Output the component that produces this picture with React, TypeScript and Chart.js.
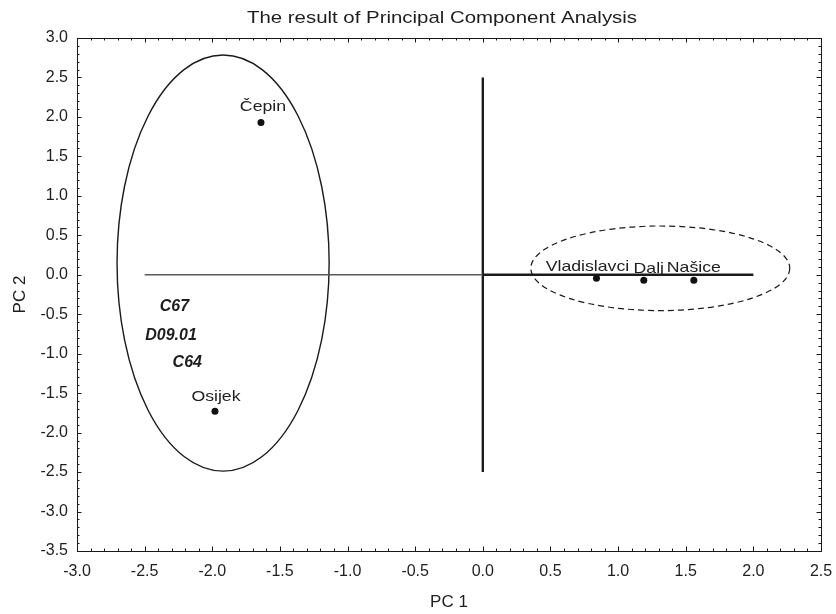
import React, { useEffect, useRef } from "react";
import { Chart, registerables } from "chart.js";

Chart.register(...registerables);

// ---- data ----
const xTickValues = [-3.0, -2.5, -2.0, -1.5, -1.0, -0.5, 0.0, 0.5, 1.0, 1.5, 2.0, 2.5];
const yTickValues = [-3.5, -3.0, -2.5, -2.0, -1.5, -1.0, -0.5, 0.0, 0.5, 1.0, 1.5, 2.0, 2.5, 3.0];

const sampleNames = ["Čepin", "Osijek", "Vladislavci", "Dalj", "Našice"];
const sampleX = [-1.64, -1.98, 0.84, 1.19, 1.56];
const sampleY = [1.93, -1.73, -0.045, -0.07, -0.07];

const markerNames = ["C67", "D09.01", "C64"];
const markerX = [-2.28, -2.305, -2.185];
const markerY = [-0.40, -0.765, -1.115];

const hLineLeftX = [-2.5, 0.0];
const hLineRightX = [0.0, 2.0];
const vLineY = [-2.5, 2.5];

const ellipseCx = [-1.92, 1.312];
const ellipseCy = [0.148, 0.082];
const ellipseRx = [0.784, 0.957];
const ellipseRy = [2.636, 0.536];
const ellipseDashed = [false, true];

// ---- label style offsets (pixels) ----
const labelDx = [2, 1, -9, 5, 0];
const labelDy = [-11.6, -10, -7.5, -7, -8.5];

const FONT = "'Liberation Sans', Arial, sans-serif";
const TEXT = "#1e1e1e";

function stretchedText(
  ctx: CanvasRenderingContext2D,
  text: string,
  x: number,
  y: number,
  font: string,
  sx: number,
  align: CanvasTextAlign,
  baseline: CanvasTextBaseline = "alphabetic"
) {
  ctx.save();
  ctx.translate(x, y);
  ctx.scale(sx, 1);
  ctx.font = font;
  ctx.textAlign = align;
  ctx.textBaseline = baseline;
  ctx.fillStyle = TEXT;
  ctx.fillText(text, 0, 0);
  ctx.restore();
}

const decorPlugin = {
  id: "decor",
  beforeDatasetsDraw(chart: any) {
    const ctx: CanvasRenderingContext2D = chart.ctx;
    const xs = chart.scales.x;
    const ys = chart.scales.y;
    for (let i = 0; i < ellipseCx.length; i++) {
      const cx = xs.getPixelForValue(ellipseCx[i]);
      const cy = ys.getPixelForValue(ellipseCy[i]);
      const rx = Math.abs(xs.getPixelForValue(ellipseCx[i] + ellipseRx[i]) - cx);
      const ry = Math.abs(ys.getPixelForValue(ellipseCy[i] + ellipseRy[i]) - cy);
      ctx.save();
      ctx.beginPath();
      ctx.ellipse(cx, cy, rx, ry, 0, 0, Math.PI * 2);
      ctx.strokeStyle = "#1a1a1a";
      ctx.lineWidth = ellipseDashed[i] ? 1.2 : 1.4;
      ctx.setLineDash(ellipseDashed[i] ? [6, 4] : []);
      ctx.stroke();
      ctx.restore();
    }
  },
  afterDraw(chart: any) {
    const ctx: CanvasRenderingContext2D = chart.ctx;
    const xs = chart.scales.x;
    const ys = chart.scales.y;
    const a = chart.chartArea;
    ctx.save();
    // frame
    ctx.strokeStyle = "#1a1a1a";
    ctx.lineWidth = 1;
    ctx.strokeRect(Math.round(a.left) + 0.5, Math.round(a.top) + 0.5, Math.round(a.right - a.left), Math.round(a.bottom - a.top));
    // ticks
    const nx = Math.round((xs.max - xs.min) / 0.1);
    for (let i = 0; i <= nx; i++) {
      const v = xs.min + i * 0.1;
      const px = Math.round(xs.getPixelForValue(v)) + 0.5;
      const major = i % 5 === 0;
      const len = major ? 4.5 : 2.5;
      ctx.beginPath();
      ctx.moveTo(px, a.bottom);
      ctx.lineTo(px, a.bottom - len);
      ctx.moveTo(px, a.top);
      ctx.lineTo(px, a.top + len);
      ctx.stroke();
    }
    const ny = Math.round((ys.max - ys.min) / 0.1);
    for (let i = 0; i <= ny; i++) {
      const v = ys.min + i * 0.1;
      const py = Math.round(ys.getPixelForValue(v)) + 0.5;
      const major = i % 5 === 0;
      const len = major ? 4.5 : 2.5;
      ctx.beginPath();
      ctx.moveTo(a.left, py);
      ctx.lineTo(a.left + len, py);
      ctx.moveTo(a.right, py);
      ctx.lineTo(a.right - len, py);
      ctx.stroke();
    }
    ctx.restore();

    // point labels
    for (let i = 0; i < sampleNames.length; i++) {
      const px = xs.getPixelForValue(sampleX[i]);
      const py = ys.getPixelForValue(sampleY[i]);
      stretchedText(ctx, sampleNames[i], px + labelDx[i], py + labelDy[i], `15px ${FONT}`, 1.18, "center");
    }
    for (let i = 0; i < markerNames.length; i++) {
      const px = xs.getPixelForValue(markerX[i]);
      const py = ys.getPixelForValue(markerY[i]);
      stretchedText(ctx, markerNames[i], px, py, `italic bold 16px ${FONT}`, 1.0, "center", "middle");
    }

    // title and axis titles
    stretchedText(ctx, "The result of Principal Component Analysis", 442, 22.7, `17px ${FONT}`, 1.2, "center");
    stretchedText(ctx, "PC 1", (a.left + a.right) / 2, 607, `17px ${FONT}`, 1.0, "center");
    ctx.save();
    ctx.translate(25, (a.top + a.bottom) / 2);
    ctx.rotate(-Math.PI / 2);
    ctx.font = `17px ${FONT}`;
    ctx.textAlign = "center";
    ctx.textBaseline = "alphabetic";
    ctx.fillStyle = TEXT;
    ctx.fillText("PC 2", 0, 0);
    ctx.restore();
  },
};

export default function App() {
  const ref = useRef<HTMLCanvasElement | null>(null);
  useEffect(() => {
    document.body.style.margin = "0";
    const canvas = ref.current;
    if (!canvas) return;
    const chart = new Chart(canvas, {
      type: "scatter",
      data: {
        datasets: [
          {
            label: "samples",
            data: sampleX.map((x, i) => ({ x, y: sampleY[i] })),
            pointRadius: 3.5,
            pointHoverRadius: 3.5,
            pointBackgroundColor: "#111",
            pointBorderColor: "#111",
            pointBorderWidth: 0,
            showLine: false,
          },
          {
            label: "markers",
            data: markerX.map((x, i) => ({ x, y: markerY[i] })),
            pointRadius: 0,
            showLine: false,
          },
          {
            label: "h-left",
            data: hLineLeftX.map((x) => ({ x, y: 0 })),
            showLine: true,
            borderColor: "#5a5a5a",
            borderWidth: 1.4,
            pointRadius: 0,
          },
          {
            label: "h-right",
            data: hLineRightX.map((x) => ({ x, y: 0 })),
            showLine: true,
            borderColor: "#1a1a1a",
            borderWidth: 2.4,
            pointRadius: 0,
          },
          {
            label: "v",
            data: vLineY.map((y) => ({ x: 0, y })),
            showLine: true,
            borderColor: "#1a1a1a",
            borderWidth: 2.4,
            pointRadius: 0,
          },
        ],
      },
      options: {
        responsive: false,
        animation: false,
        devicePixelRatio: 1,
        layout: { padding: { top: 38, right: 15, left: 0, bottom: 0 } },
        plugins: {
          legend: { display: false },
          title: { display: false },
          tooltip: { enabled: false },
        },
        scales: {
          x: {
            type: "linear",
            min: xTickValues[0],
            max: xTickValues[xTickValues.length - 1],
            grid: { display: false, drawTicks: false },
            border: { display: false },
            afterBuildTicks: (s: any) => {
              s.ticks = xTickValues.map((v) => ({ value: v }));
            },
            afterFit: (s: any) => {
              s.height = 63;
              s.paddingLeft = 0;
              s.paddingRight = 0;
            },
            ticks: {
              padding: 11,
              color: TEXT,
              font: { family: FONT, size: 16 },
              callback: (v: any) => Number(v).toFixed(1),
              maxRotation: 0,
              autoSkip: false,
            },
          },
          y: {
            type: "linear",
            min: yTickValues[0],
            max: yTickValues[yTickValues.length - 1],
            grid: { display: false, drawTicks: false },
            border: { display: false },
            afterBuildTicks: (s: any) => {
              s.ticks = yTickValues.map((v) => ({ value: v }));
            },
            afterFit: (s: any) => {
              s.width = 77;
              s.paddingTop = 0;
              s.paddingBottom = 0;
            },
            ticks: {
              padding: 9,
              color: TEXT,
              font: { family: FONT, size: 16 },
              callback: (v: any) => Number(v).toFixed(1),
              autoSkip: false,
            },
          },
        },
      },
      plugins: [decorPlugin],
    });
    return () => chart.destroy();
  }, []);
  return <canvas ref={ref} width={836} height={614} style={{ display: "block" }} />;
}
